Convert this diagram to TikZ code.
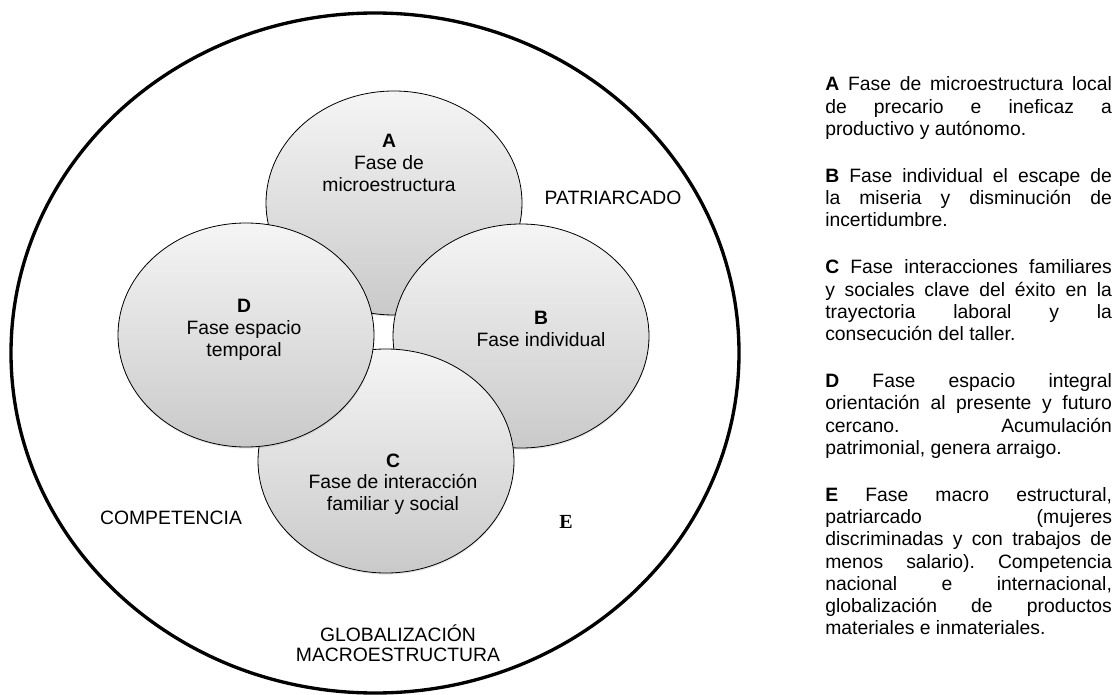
\documentclass[tikz,border=0pt]{standalone}
\usepackage{fontspec}
\setmainfont{Liberation Sans}
\newfontfamily\serifletter{Liberation Serif}
\usepackage{tikz}
\usetikzlibrary{shapes.geometric}
\usetikzlibrary{shadows}

\begin{document}
\begin{tikzpicture}[x=0.75pt,y=-0.75pt]
     \tikzstyle{phase}=[ellipse,draw=black,line width=0.6pt,minimum width=192pt,minimum height=168pt,
        top color=black!4,bottom color=black!21,
        drop shadow={opacity=0.2,shadow xshift=0.3pt,shadow yshift=-1.2pt}]
     \tikzstyle{phasetext}=[align=center,inner sep=0pt,font=\fontsize{14.5pt}{16.3pt}\selectfont]
     \tikzstyle{envtext}=[align=center,inner sep=0pt,font=\fontsize{14.5pt}{15pt}\selectfont]
     \tikzstyle{legend}=[text width=215pt,align=justify,inner sep=0pt,
        font=\fontsize{14.5pt}{16.7pt}\selectfont]
     \useasboundingbox (0,0) rectangle (1116,695);

     \node[ellipse,draw=black,line width=2.5pt,minimum width=546pt,minimum height=510pt] (env) at (375,353) {};

     \node[phase] (a) at (394,203) {};
     \node[phase] (b) at (521,336) {};
     \node[phase] (c) at (386,461) {};
     \node[phase] (d) at (246,335) {};

     \node[phasetext] (ta) at (389,163) {\textbf{A}\\Fase de\\microestructura};
     \node[phasetext] (tb) at (541,329) {\textbf{B}\\Fase individual};
     \node[phasetext] (tc) at (393,484) {\textbf{C}\\Fase de interacción\\familiar y social};
     \node[phasetext] (td) at (244,330) {\textbf{D}\\Fase espacio\\temporal};

     \node[envtext] (patr) at (613,198) {PATRIARCADO};
     \node[envtext] (comp) at (171,518) {COMPETENCIA};
     \node[envtext] (glob) at (398,643) {GLOBALIZACIÓN\\MACROESTRUCTURA};
     \node[inner sep=0pt,font=\serifletter\bfseries\fontsize{15pt}{17pt}\selectfont] (e) at (566,522) {E};

     \node[legend,anchor=base west] (leg) at (825,91) {\setlength{\parskip}{18.5pt}\frenchspacing
        \tolerance=10000\hyphenpenalty=10000
        \textbf{A} Fase de microestructura local\linebreak de precario e ineficaz a\linebreak productivo y autónomo.\par
        \textbf{B} Fase individual el escape de\linebreak la miseria y disminución de\linebreak incertidumbre.\par
        \textbf{C} Fase interacciones familiares\linebreak y sociales clave del éxito en la\linebreak trayectoria laboral y la\linebreak consecución del taller.\par
        \textbf{D} Fase espacio integral\linebreak orientación al presente y futuro\linebreak cercano. Acumulación\linebreak patrimonial, genera arraigo.\par
        \textbf{E} Fase macro estructural,\linebreak patriarcado (mujeres\linebreak discriminadas y con trabajos de\linebreak menos salario). Competencia\linebreak nacional e internacional,\linebreak globalización de productos\linebreak materiales e inmateriales.};
\end{tikzpicture}
\end{document}
